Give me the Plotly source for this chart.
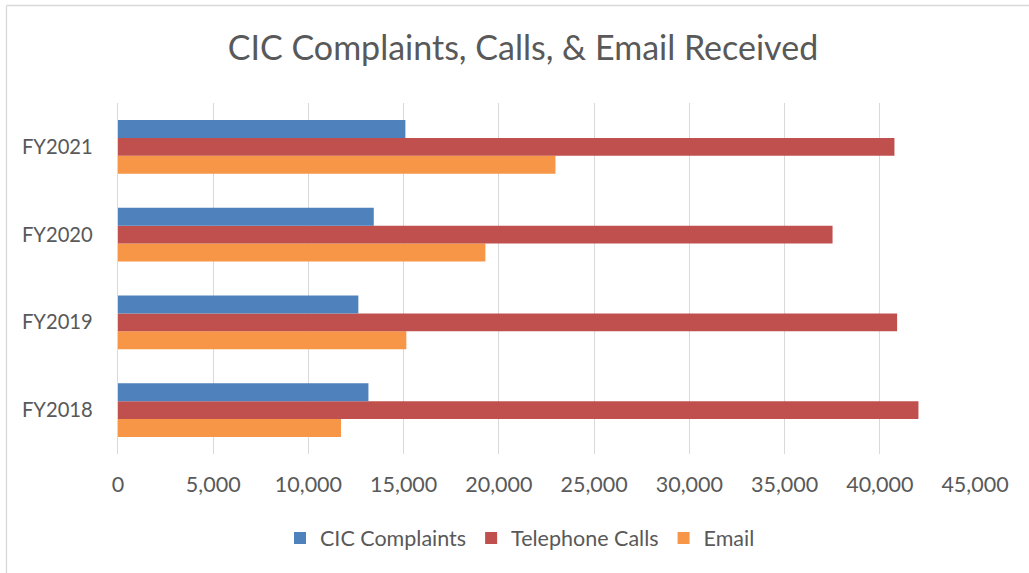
import plotly.graph_objects as go

categories = ["FY2018", "FY2019", "FY2020", "FY2021"]
cic_complaints = [13150, 12620, 13430, 15090]
telephone_calls = [42030, 40910, 37520, 40770]
email = [11710, 15140, 19290, 22970]

W, H = 1029, 573
L, R, T, B = 118, 54, 103, 119
pw, ph = W - L - R, H - T - B

font_family = "Lato, Calibri, Carlito, sans-serif"
gray = "#595959"

fig = go.Figure()
fig.add_trace(go.Bar(y=categories, x=email, name="Email", orientation="h",
                     marker=dict(color="#F79646", line=dict(width=0))))
fig.add_trace(go.Bar(y=categories, x=telephone_calls, name="Telephone Calls", orientation="h",
                     marker=dict(color="#C0504D", line=dict(width=0))))
fig.add_trace(go.Bar(y=categories, x=cic_complaints, name="CIC Complaints", orientation="h",
                     marker=dict(color="#4F81BD", line=dict(width=0))))

def px_x(p):
    return (p - L) / pw

def px_y(p):
    return 1 - (p - T) / ph

fig.update_layout(
    width=W, height=H,
    margin=dict(l=L, r=R, t=T, b=B, autoexpand=False),
    paper_bgcolor="white", plot_bgcolor="white",
    barmode="group", bargap=0.386, bargroupgap=0,
    font=dict(family=font_family, color=gray, size=20),
    title=dict(text="CIC Complaints, Calls, & Email Received", xref="paper", x=px_x(523), xanchor="center",
               y=1 - 48 / H, yanchor="middle", font=dict(size=34, color=gray, family=font_family)),
    xaxis=dict(range=[0, 45000], tickvals=list(range(0, 45001, 5000)), tickformat=",",
               showgrid=True, gridcolor="#D9D9D9", gridwidth=1.3, zeroline=False,
               showline=False, ticks="", tickfont=dict(size=21.5, color=gray), ticklabelstandoff=15),
    yaxis=dict(showgrid=False, zeroline=False, showline=True, linecolor="#D9D9D9", linewidth=1.3,
               ticks="", tickfont=dict(size=20.2, color=gray), ticklabelstandoff=20,
               categoryorder="array", categoryarray=categories),
    legend=dict(orientation="h", x=px_x(520), xanchor="center", y=px_y(538), yanchor="middle",
                traceorder="reversed", font=dict(size=21.5, color=gray),
                itemwidth=30, itemsizing="constant"),
    showlegend=True,
)

# Chart frame (left and top edges visible)
fig.add_shape(type="line", xref="paper", yref="paper",
              x0=px_x(6.5), x1=px_x(6.5), y0=px_y(5.5), y1=px_y(H + 5),
              line=dict(color="#D9D9D9", width=1.3))
fig.add_shape(type="line", xref="paper", yref="paper",
              x0=px_x(6.5), x1=px_x(W + 5), y0=px_y(5.5), y1=px_y(5.5),
              line=dict(color="#D9D9D9", width=1.3))

fig.write_html("out.html", config={"displayModeBar": False},
               post_script="document.body.style.margin='0';document.body.style.overflow='hidden';")
